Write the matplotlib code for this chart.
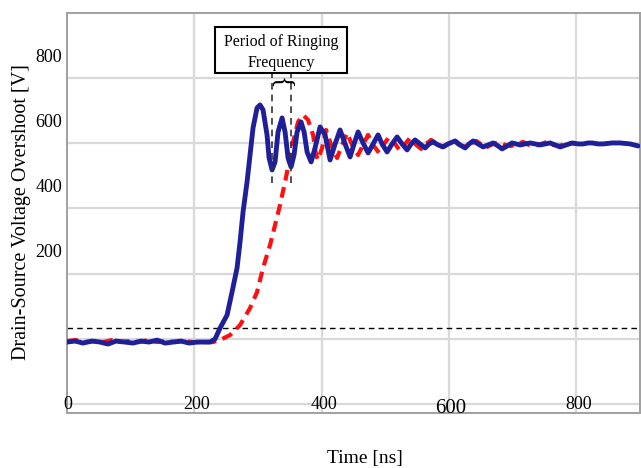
import numpy as np
import matplotlib
matplotlib.use("Agg")
import matplotlib.pyplot as plt
import matplotlib.patches as patches

plt.rcParams["font.family"] = ["Liberation Serif", "DejaVu Serif"]

# blue solid trace (time [ns], voltage [V])
blue_t = [0, 12.6, 25.1, 39.3, 51.8, 64.4, 77.0, 91.1, 103.7, 116.3, 128.8, 141.4,
          154.0, 166.5, 179.1, 191.7, 204.2, 216.8, 224.7, 232.5, 240.4, 251.4,
          259.2, 267.1, 271.8, 276.5, 282.8, 287.5, 292.2, 298.5, 303.2, 307.9,
          314.2, 317.4, 322.1, 326.8, 331.5, 337.8, 342.5, 347.2, 351.9, 356.6,
          361.4, 367.6, 372.4, 377.1, 383.4, 389.6, 397.5, 405.4, 413.2, 421.1,
          428.9, 436.8, 444.6, 450.9, 457.2, 465.0, 472.9, 480.8, 488.6, 494.9,
          502.7, 510.6, 518.5, 526.3, 534.2, 540.5, 546.7, 554.6, 562.5, 568.7,
          575.0, 582.9, 590.7, 598.6, 609.6, 617.4, 625.3, 631.6, 637.9, 645.7,
          653.6, 661.4, 669.3, 677.1, 683.4, 691.3, 699.1, 705.4, 711.7, 719.5,
          727.4, 735.3, 743.1, 751.0, 758.8, 766.7, 774.6, 784.0, 793.4, 802.8,
          810.7, 818.5, 824.8, 834.3, 842.1, 856.3, 868.8, 884.5, 897.1]
blue_v = [-73.6, -70.5, -76.7, -70.5, -73.6, -79.7, -70.5, -73.6, -76.7, -70.5,
          -73.6, -67.5, -76.7, -73.6, -70.5, -76.7, -73.6, -73.6, -73.6, -64.4,
          -30.7, 9.2, 79.7, 153.4, 233.1, 325.1, 417.1, 499.9, 582.7, 644.1,
          653.3, 638.0, 561.3, 490.7, 453.9, 478.5, 570.5, 613.4, 570.5, 490.7,
          463.1, 499.9, 570.5, 601.1, 570.5, 509.1, 478.5, 521.4, 585.8, 561.3,
          484.6, 533.7, 576.6, 533.7, 493.8, 533.7, 570.5, 536.7, 506.1, 533.7,
          561.3, 533.7, 509.1, 533.7, 555.1, 533.7, 515.3, 533.7, 546.0, 533.7,
          521.4, 533.7, 539.8, 530.6, 524.5, 533.7, 542.9, 530.6, 521.4, 533.7,
          542.9, 533.7, 524.5, 530.6, 536.7, 527.5, 518.3, 527.5, 536.7, 533.7,
          530.6, 533.7, 536.7, 533.7, 530.6, 533.7, 536.7, 530.6, 524.5, 530.6,
          536.7, 533.7, 533.7, 536.7, 536.7, 533.7, 533.7, 536.7, 536.7, 533.7,
          527.5]

# red dashed trace
red_t = [0, 14.1, 28.3, 42.4, 56.6, 70.7, 84.8, 99.0, 113.1, 127.3, 141.4, 155.5,
         169.7, 183.8, 198.0, 212.1, 229.4, 243.5, 256.1, 271.8, 287.5, 298.5,
         307.9, 318.9, 326.8, 334.6, 342.5, 348.8, 355.1, 362.9, 370.8, 378.6,
         386.5, 391.2, 394.3, 400.6, 406.9, 414.8, 424.2, 432.1, 439.9, 447.8,
         457.2, 465.0, 472.9, 480.8, 490.2, 498.0, 505.9, 515.3, 523.2, 531.0,
         538.9, 546.7, 556.2, 564.0, 571.9, 581.3, 589.2, 598.6, 606.4, 615.9,
         623.7, 633.2, 642.6, 652.0, 659.9, 669.3, 678.7, 688.1, 697.6, 707.0,
         716.4, 725.8, 735.3, 744.7, 754.1, 763.5, 773.0, 782.4, 791.8, 799.7]
red_v = [-70.5, -67.5, -73.6, -70.5, -73.6, -67.5, -73.6, -70.5, -73.6, -67.5,
         -73.6, -70.5, -73.6, -70.5, -73.6, -73.6, -73.6, -64.4, -52.1, -21.5,
         30.7, 79.7, 153.4, 223.9, 285.2, 346.6, 417.1, 478.5, 539.8, 601.1,
         622.6, 607.3, 561.3, 499.9, 484.6, 521.4, 576.6, 530.6, 490.7, 530.6,
         567.4, 530.6, 499.9, 530.6, 561.3, 530.6, 506.1, 533.7, 555.1, 533.7,
         512.2, 533.7, 552.0, 533.7, 518.3, 533.7, 546.0, 533.7, 524.5, 533.7,
         542.9, 530.6, 524.5, 533.7, 542.9, 530.6, 524.5, 533.7, 539.8, 530.6,
         527.5, 533.7, 539.8, 530.6, 527.5, 533.7, 539.8, 530.6, 527.5, 533.7,
         536.7, 533.7]

x_ticks = [0, 200, 400, 600, 800]
y_ticks = [200, 400, 600, 800]
y_grid = [-264, -64, 136, 336, 536, 736]
ref_level = -30
ring_start, ring_end = 322, 352

fig = plt.figure(figsize=(6.41, 4.68), dpi=100)
ax = fig.add_axes([67 / 641, 55 / 468, 573 / 641, 400 / 468])
ax.set_xlim(0, 900)
ax.set_ylim(-291, 935)

ax.set_xticks([200, 400, 600, 800])
ax.set_yticks(y_grid)
ax.set_xticklabels([])
ax.set_yticklabels([])
ax.tick_params(length=0)
ax.grid(True, color="#d9d9d9", lw=1.6)
ax.set_axisbelow(True)
for s in ax.spines.values():
    s.set_color("#a0a0a0")
    s.set_linewidth(1.4)

ax.axhline(ref_level, color="black", lw=1.0, ls=(0, (4, 3)))

ax.plot(red_t, red_v, color="#ff1010", lw=3.0, ls=(0, (2.6, 1.6)),
        solid_capstyle="round", zorder=3)
ax.plot(blue_t, blue_v, color="#1f1f99", lw=3.5, solid_joinstyle="round",
        solid_capstyle="round", zorder=4)

# ringing period marker
for xr in (ring_start, ring_end):
    ax.plot([xr, xr], [414, 751], color="#333333", lw=1.2, ls=(0, (4, 3)), zorder=5)
ax.add_patch(patches.Rectangle((232.5, 751), 207.5, 141, facecolor="white",
                               edgecolor="black", lw=1.5, zorder=6))
ax.text(336, 814, "Period of Ringing\nFrequency", ha="center", va="center",
        fontsize=11.5, linespacing=1.45, zorder=7)
ax.text((ring_start + ring_end) / 2, 720, "{", rotation=-90, ha="center",
        va="center", fontsize=19, fontweight="light", zorder=7)

# tick labels as drawn in the original
tr = ax.get_yaxis_transform()
for v in y_ticks:
    ax.text(-0.008, v, str(v), transform=tr, ha="right", va="center", fontsize=13)
for x in x_ticks:
    if x == 0:
        ax.text(x + 1, -264, "0", ha="center", va="center", fontsize=13)
    elif x == 600:
        ax.text(x + 2, -278, "600", ha="center", va="center", fontsize=15)
    else:
        ax.text(x + 3, -264, str(x), ha="center", va="center", fontsize=13)

fig.text(22 / 641, 1 - 212 / 468, "Drain-Source Voltage Overshoot [V]",
         rotation=90, ha="center", va="center", fontsize=14.5)
fig.text(365 / 641, 1 - 458 / 468, "Time [ns]", ha="center", va="center",
         fontsize=14)

fig.savefig("out.png", dpi=100)
